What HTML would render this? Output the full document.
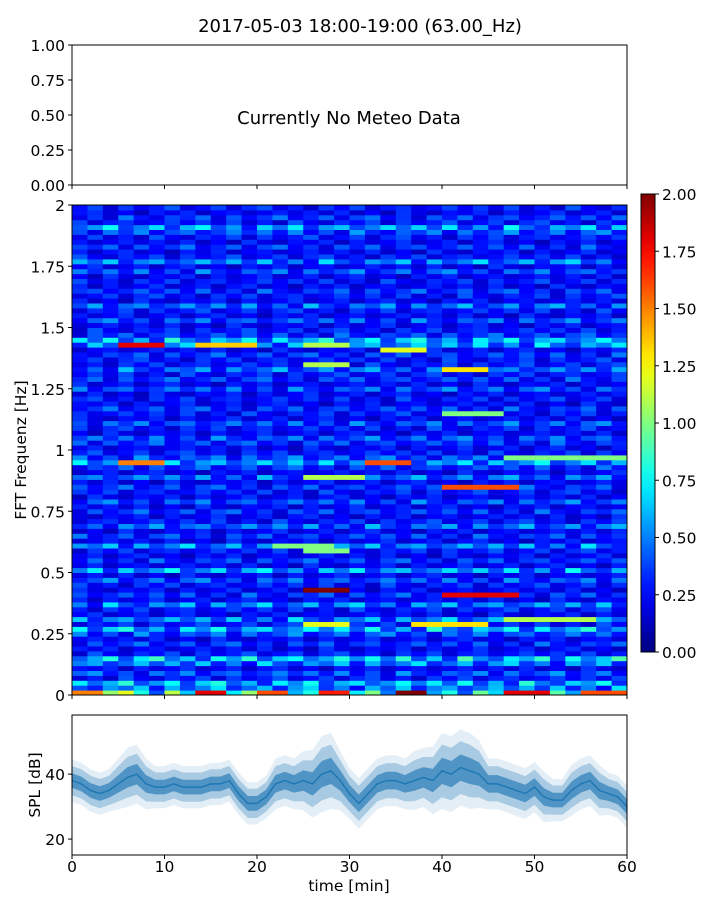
<!DOCTYPE html>
<html><head><meta charset="utf-8"><style>
body{margin:0;background:#fff}
svg{display:block;font-family:"DejaVu Sans","Liberation Sans",sans-serif}
</style></head><body>
<svg id="chart" width="720" height="900" xmlns="http://www.w3.org/2000/svg"></svg>
<script>
// ---- data ----
const meteoTicks=["0.00","0.25","0.50","0.75","1.00"];
const timeTicks=[0,10,20,30,40,50,60];
const freqTickVals=[0,0.25,0.5,0.75,1,1.25,1.5,1.75,2];
const freqTickLabels=["0","0.25","0.5","0.75","1","1.25","1.5","1.75","2"];
const cbarTicks=["0.00","0.25","0.50","0.75","1.00","1.25","1.50","1.75","2.00"];
const splTicks=[20,40];
// row profile: 100 bins of 0.02 Hz from 0 to 2
const rowProfile=[0.8,0.5,0.6,0.3,0.4,0.25,0.5,0.65,0.3,0.25,
0.35,0.25,0.4,0.6,0.3,0.5,0.25,0.3,0.5,0.25,
0.35,0.25,0.3,0.4,0.25,0.55,0.25,0.35,0.25,0.3,
0.5,0.25,0.35,0.25,0.45,0.3,0.25,0.35,0.25,0.4,
0.25,0.3,0.35,0.25,0.45,0.25,0.35,0.55,0.4,0.3,
0.25,0.35,0.4,0.25,0.3,0.4,0.25,0.3,0.35,0.25,
0.3,0.25,0.4,0.25,0.35,0.3,0.45,0.3,0.3,0.35,
0.25,0.55,0.6,0.35,0.3,0.25,0.4,0.25,0.3,0.45,
0.25,0.3,0.35,0.25,0.3,0.25,0.4,0.25,0.5,0.3,
0.25,0.35,0.25,0.3,0.4,0.55,0.3,0.35,0.25,0.3];
// column modulation: 36 columns over 60 min
const colFactor=[1.2,0.7,1.3,0.6,1.0,0.5,1.4,0.8,0.6,1.1,0.9,1.3,0.55,1.2,0.75,1.0,1.4,0.65,0.9,1.25,0.6,1.1,1.35,0.7,1.0,0.5,1.2,0.85,1.3,0.6,1.0,1.15,0.7,0.9,1.25,0.8];
// per-row column offset of the modulation pattern
const rowShift=[0,7,13,3,21,9,30,17,5,26,12,33,2,19,8,28,15,24,4,11,
31,6,22,14,35,10,27,1,18,25,9,32,16,3,23,29,7,12,34,20,
5,26,13,0,30,17,8,22,2,15,27,11,33,4,19,24,6,31,14,9,
21,1,28,16,10,35,3,23,18,7,29,12,0,25,5,32,20,13,8,27,
2,17,30,11,22,4,34,15,26,6,19,9,31,1,24,14,28,3,21,10];
// hotspots: [freqBin, colStart, colEnd, value]
const hotspots=[[71,3,5,1.8],[71,8,11,1.35],[71,15,17,1.1],[70,20,22,1.2],[66,24,26,1.3],[67,15,17,1.1],[57,24,27,1.0],
[47,3,5,1.5],[47,19,21,1.6],[48,28,35,1.0],[44,15,18,1.1],[42,24,28,1.6],[30,13,16,1.0],
[21,15,17,2.0],[20,24,28,1.8],[29,15,17,1.0],[14,15,17,1.2],[14,22,26,1.3],[15,28,33,1.1],
[0,0,1,1.5],[0,3,3,1.2],[0,8,9,1.8],[0,12,13,1.6],[0,16,17,1.7],[0,21,22,2.0],[0,28,30,1.8],[0,33,35,1.6]];
const splMean=[38,37,35,34,35,37,39,40,37,36,36,37,36,36,36,37,37,38,34,31,31,33,37,38,37,38,37,40,41,38,34,31,34,37,38,38,37,38,39,38,41,40,42,41,40,37,37,36,35,34,36,33,32,32,35,37,38,35,34,33,30];
const splSpread=[5,5,5,5,5,6,7,7,6,5,5,5,5,5,5,5,5,5,5,5,5,5,6,6,6,7,8,9,9,7,6,6,6,6,6,6,6,7,7,8,9,9,9,9,8,6,6,6,6,6,6,6,5,5,6,6,6,6,5,5,5];

const NS="http://www.w3.org/2000/svg";
const svg=document.getElementById('chart');
function el(tag,attrs,parent){const e=document.createElementNS(NS,tag);for(const k in attrs)e.setAttribute(k,attrs[k]);(parent||svg).appendChild(e);return e;}
function txt(s,x,y,attrs,name){const t=el('text',Object.assign({x:x,y:y,'font-size':15.5,fill:'#000'},attrs));t.textContent=s;return t;}
function jet(v){v=Math.max(0,Math.min(1,v));const f=x=>Math.max(0,Math.min(1,x));
const r=f(1.5-Math.abs(4*v-3)),g=f(1.5-Math.abs(4*v-2)),b=f(1.5-Math.abs(4*v-1));
return `rgb(${Math.round(r*255)},${Math.round(g*255)},${Math.round(b*255)})`;}
const L=72,R=627;
const xT=t=>L+(R-L)*t/60;

txt("2017-05-03 18:00-19:00 (63.00_Hz)",360,32,{'font-size':18,'text-anchor':'middle'},'chart-title');

// ---- top panel ----
const tT=45,tB=185;
const g1=el('g',{});
el('rect',{x:L,y:tT,width:R-L,height:tB-tT,fill:'none',stroke:'#000','stroke-width':1},g1);
meteoTicks.forEach((s,i)=>{const y=tB-(tB-tT)*i/4;el('line',{x1:L-4,x2:L,y1:y,y2:y,stroke:'#000'},g1);txt(s,L-7,y+6,{'text-anchor':'end'},'meteo-y-tick');});
timeTicks.forEach(t=>{el('line',{x1:xT(t),x2:xT(t),y1:tB,y2:tB+4,stroke:'#000'},g1);});
txt("Currently No Meteo Data",349,124,{'font-size':18,'text-anchor':'middle'},'no-meteo-message');

// ---- spectrogram ----
const sT=205,sB=695,nR=rowProfile.length,nC=colFactor.length;
const g2=el('g',{});
const grid=[];
for(let r=0;r<nR;r++){const row=[];for(let c=0;c<nC;c++)row.push(rowProfile[r]*colFactor[(c+rowShift[r])%nC]);grid.push(row);}
hotspots.forEach(h=>{for(let c=h[1];c<=h[2]&&c<nC;c++)grid[h[0]][c]=Math.max(grid[h[0]][c],h[3]);});
const cw=(R-L)/nC,rh=(sB-sT)/nR;
for(let r=0;r<nR;r++)for(let c=0;c<nC;c++){
 const cell=el('rect',{x:(L+c*cw).toFixed(2),y:(sB-(r+1)*rh).toFixed(2),width:(cw+0.5).toFixed(2),height:(rh+0.5).toFixed(2),fill:jet(grid[r][c]/2)},g2);
 
 
}
el('rect',{x:L,y:sT,width:R-L,height:sB-sT,fill:'none',stroke:'#000'},g2);
freqTickVals.forEach((v,i)=>{const y=sB-(sB-sT)*v/2;el('line',{x1:L-4,x2:L,y1:y,y2:y,stroke:'#000'},g2);txt(freqTickLabels[i],L-7,y+6,{'text-anchor':'end'},'freq-y-tick');});
timeTicks.forEach(t=>{el('line',{x1:xT(t),x2:xT(t),y1:sB,y2:sB+4,stroke:'#000'},g2);});
txt("FFT Frequenz [Hz]",26,450,{'text-anchor':'middle',transform:'rotate(-90 26 450)'},'freq-axis-title');

// colorbar
const cT=194,cB=652,cL=641,cR=655;
const defs=el('defs',{});const lg=el('linearGradient',{id:'jetg',x1:0,y1:1,x2:0,y2:0},defs);
for(let i=0;i<=20;i++)el('stop',{offset:i/20,'stop-color':jet(i/20)},lg);
const cb=el('rect',{x:cL,y:cT,width:cR-cL,height:cB-cT,fill:'url(#jetg)',stroke:'#000'});

cbarTicks.forEach((s,i)=>{const y=cB-(cB-cT)*i/8;el('line',{x1:cR,x2:cR+4,y1:y,y2:y,stroke:'#000'});txt(s,cR+7,y+6,{},'colorbar-tick');});

// ---- SPL panel ----
const bT=715,bB=855,yMin=15.1,yMax=58.2;
const yS=v=>bB-(bB-bT)*(v-yMin)/(yMax-yMin);
const g3=el('g',{});
const cp=el('clipPath',{id:'bclip'},defs);el('rect',{x:L,y:bT,width:R-L,height:bB-bT},cp);
function band(k,op,name){let up=[],dn=[];splMean.forEach((m,i)=>{up.push(xT(i).toFixed(1)+','+yS(m+splSpread[i]*k).toFixed(1));dn.unshift(xT(i).toFixed(1)+','+yS(m-splSpread[i]*k).toFixed(1));});
 const p=el('polygon',{points:up.concat(dn).join(' '),fill:'#1f77b4','fill-opacity':op,'clip-path':'url(#bclip)'},g3);}
band(1.3,0.12,'spl-outer-band');band(0.9,0.3,'spl-band');band(0.45,0.65,'spl-core-band');
const ln=el('polyline',{points:splMean.map((m,i)=>xT(i).toFixed(1)+','+yS(m).toFixed(1)).join(' '),fill:'none',stroke:'#1f77b4','stroke-width':1.5},g3);

el('rect',{x:L,y:bT,width:R-L,height:bB-bT,fill:'none',stroke:'#000'},g3);
splTicks.forEach(v=>{const y=yS(v);el('line',{x1:L-4,x2:L,y1:y,y2:y,stroke:'#000'},g3);txt(String(v),L-7,y+6,{'text-anchor':'end'},'spl-y-tick');});
timeTicks.forEach(t=>{el('line',{x1:xT(t),x2:xT(t),y1:bB,y2:bB+4,stroke:'#000'},g3);txt(String(t),xT(t),bB+17,{'text-anchor':'middle'},'time-x-tick');});
txt("time [min]",349,891,{'text-anchor':'middle'},'time-axis-title');
txt("SPL [dB]",40,785,{'text-anchor':'middle',transform:'rotate(-90 40 785)'},'spl-axis-title');
</script>
</body></html>
